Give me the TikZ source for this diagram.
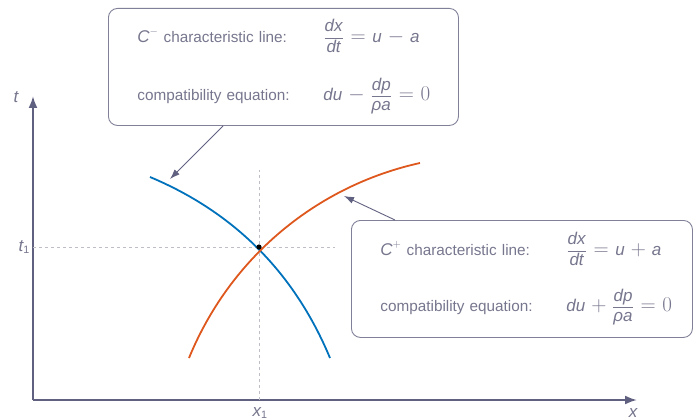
\RequirePackage{fix-cm}
\documentclass[tikz,border=0pt]{standalone}
\usepackage{amsmath}
\usepackage{fontspec}
\setmainfont{Liberation Sans}
\usetikzlibrary{arrows.meta}
\definecolor{inkgray}{RGB}{118,118,142}
\definecolor{axisgray}{RGB}{96,96,128}
\definecolor{boxgray}{RGB}{128,128,152}
\definecolor{guidegray}{RGB}{190,190,198}
\definecolor{cminusblue}{RGB}{0,114,188}
\definecolor{cplusorange}{RGB}{222,88,30}
\newcommand{\mv}[1]{\text{\fontsize{17}{17}\selectfont\itshape #1}}
\newcommand{\bigsym}[1]{\text{\fontsize{21}{21}\selectfont$#1$}}
\newcommand{\eqs}{\mathrel{\hspace{2.5pt}\bigsym{=}\hspace{2.5pt}}}
\newcommand{\mns}{\mathbin{\hspace{2.5pt}\bigsym{-}\hspace{2.5pt}}}
\newcommand{\pls}{\mathbin{\hspace{2.5pt}\bigsym{+}\hspace{2.5pt}}}

\begin{document}
\begin{tikzpicture}[
  x=1pt,y=-1pt,
  font=\fontsize{15.3}{18.3}\selectfont,
  >=Latex,
  axis/.style={draw=axisgray,line width=2pt,-{Latex[length=12pt,width=9pt]}},
  guide/.style={draw=guidegray,line width=0.7pt,dash pattern=on 3pt off 3pt},
  callout/.style={
    draw=boxgray,
    rounded corners=9pt,
    line width=0.9pt,
    text=inkgray,
    align=left,
    anchor=north west,
    inner xsep=29pt,
    inner ysep=0pt,
    minimum height=117pt
  },
  pointer/.style={draw=axisgray,line width=0.9pt,-{Latex[length=10pt,width=7pt]}},
  charline/.style={line width=1.8pt},
  lbl/.style={text=inkgray,inner sep=1pt}
]
\useasboundingbox (0,0) rectangle (694,420);

% axes
\coordinate (O) at (33,400);
\coordinate (xend) at (637,400);
\coordinate (tend) at (33,96);
\draw[axis] (O) -- (xend);
\draw[axis] (O) -- (tend);
\node[lbl] (xlab) at (633,413) {$\mv{x}$};
\node[lbl] (tlab) at (16,97) {$\mv{t}$};

% point (x1,t1)
\coordinate (pt) at (259,247);
\coordinate (tone) at (33,247);
\coordinate (xone) at (259,400);
\draw[guide] (tone) -- (335,247);
\draw[guide] (xone) -- (259,170);
\node[lbl,anchor=east] (tonelab) at (31,247) {$\mv{t}_{\text{1}}$};
\node[lbl] (xonelab) at (260,413) {$\mv{x}_{\text{1}}$};

% characteristics
\draw[charline,cminusblue] (150,177) .. controls (234.5,212.5) and (294.5,272.9) .. (330,358);
\draw[charline,cplusorange] (189,358) .. controls (230,258) and (316,186) .. (420,163);
\fill (pt) circle (2.6pt);

% callouts
\node[callout,minimum width=350pt,text width=292pt] (cminus) at (108,8) {%
  \begin{tabular}{@{}p{186pt}@{}l@{}}
    $\mv{C}^{-}$ characteristic line: & $\dfrac{\mv{dx}}{\mv{dt}} \eqs \mv{u} \mns \mv{a}$ \\[30pt]
    compatibility equation: & $\mv{du} \mns \dfrac{\mv{dp}}{\mv{ρa}} \eqs \bigsym{0}$
  \end{tabular}};
\node[callout,minimum width=341pt,text width=283pt] (cplus) at (351,220) {%
  \begin{tabular}{@{}p{186pt}@{}l@{}}
    $\mv{C}^{+}$ characteristic line: & $\dfrac{\mv{dx}}{\mv{dt}} \eqs \mv{u} \pls \mv{a}$ \\[28pt]
    compatibility equation: & $\mv{du} \pls \dfrac{\mv{dp}}{\mv{ρa}} \eqs \bigsym{0}$
  \end{tabular}};

\coordinate (onblue) at (170,179);
\coordinate (onorange) at (344,196);
\draw[pointer] (cminus.south west) ++(115,0) -- (onblue);
\draw[pointer] (cplus.north west) ++(44,0) -- (onorange);
\end{tikzpicture}
\end{document}
